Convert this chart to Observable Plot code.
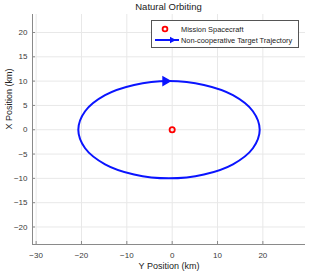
<!DOCTYPE html>
<html>
<head>
<meta charset="utf-8">
<script src="https://cdn.jsdelivr.net/npm/d3@7"></script>
<script src="https://cdn.jsdelivr.net/npm/@observablehq/plot@0.6"></script>
<style>
  html, body { margin: 0; padding: 0; background: #fff; }
  #wrap { position: relative; width: 309px; height: 276px; font-family: "Liberation Sans", Arial, sans-serif; }
  #title { position: absolute; left: 32px; width: 273px; top: 1px; text-align: center; font-size: 9.5px; color: #1a1a1a; }
  #legend { position: absolute; left: 151px; top: 20px; width: 146px; height: 26px; border: 1px solid #555; background: #fff; font-size: 7.4px; color: #222; }
  .row { position: absolute; left: 0; height: 12px; width: 146px; }
  .row svg { position: absolute; left: 0; top: 0; }
  .row span { position: absolute; left: 29px; top: 1.5px; white-space: nowrap; }
  svg { overflow: visible; }
</style>
</head>
<body>
<div id="wrap"></div>
<script>
// Chart values
const chartTitle = "Natural Orbiting";
const xLabel = "Y Position (km)";
const yLabel = "X Position (km)";
const xTicks = [-30, -20, -10, 0, 10, 20];
const yTicks = [-20, -15, -10, -5, 0, 5, 10, 15, 20];
const xDomain = [-30.8, 29.4];
const yDomain = [-23.6, 23.7];

// Target trajectory, horizontal = Y position, vertical = X position
const orbitY = [19.3, 17.8, 13.4, 7.0, -0.7, -8.4, -14.8, -19.2, -20.7, -19.2, -14.8, -8.4, -0.7, 7.0, 13.4, 17.8];
const orbitX = [0, 3.8, 7.1, 9.2, 10, 9.2, 7.1, 3.8, 0, -3.8, -7.1, -9.2, -10, -9.2, -7.1, -3.8];

// Arrow marker on trajectory
const arrowY = [-1.5];
const arrowX = [10];

// Mission spacecraft
const craftY = [0];
const craftX = [0];

const legendLabels = ["Mission Spacecraft", "Non-cooperative Target Trajectory"];

const orbit = orbitY.map((v, i) => ({h: v, v: orbitX[i]}));
const arrow = arrowY.map((v, i) => ({h: v, v: arrowX[i]}));
const craft = craftY.map((v, i) => ({h: v, v: craftX[i]}));

const fmt = d => d < 0 ? "\u2212" + Math.abs(d) : String(d);

const chart = Plot.plot({
  width: 309,
  height: 276,
  marginLeft: 32,
  marginRight: 4,
  marginTop: 14,
  marginBottom: 32,
  style: {fontFamily: "Liberation Sans, Arial, sans-serif", background: "#fff"},
  x: {domain: xDomain, ticks: xTicks},
  y: {domain: yDomain, ticks: yTicks},
  marks: [
    Plot.gridX(xTicks, {stroke: "#e8e8e8", strokeOpacity: 1}),
    Plot.gridY(yTicks, {stroke: "#e8e8e8", strokeOpacity: 1}),
    Plot.ruleY([yDomain[0]], {stroke: "#8a8a8a", strokeWidth: 1}),
    Plot.ruleX([xDomain[0]], {stroke: "#8a8a8a", strokeWidth: 1}),
    Plot.axisX(xTicks, {tickSize: -3, tickPadding: 11, stroke: "#8a8a8a", fill: "#3a3a3a", fontSize: 8, tickFormat: fmt, label: null}),
    Plot.axisY(yTicks, {tickSize: -3, tickPadding: 8, stroke: "#8a8a8a", fill: "#3a3a3a", fontSize: 8, tickFormat: fmt, label: null}),
    Plot.line(orbit, {x: "h", y: "v", curve: "catmull-rom-closed", stroke: "#0a14ff", strokeWidth: 2}),
    Plot.dot(arrow, {x: "h", y: "v", symbol: "triangle", rotate: 90, r: 3, fill: "#0a14ff", stroke: "#0a14ff"}),
    Plot.dot(craft, {x: "h", y: "v", r: 2.6, stroke: "#ff0000", strokeWidth: 1.8, fill: "none"}),
    Plot.text([xLabel], {frameAnchor: "bottom", dy: 24, text: d => d, fontSize: 9, fill: "#222"}),
    Plot.text([yLabel], {frameAnchor: "left", dx: -23, rotate: -90, text: d => d, fontSize: 9, fill: "#222"})
  ]
});

const wrap = document.getElementById("wrap");
wrap.appendChild(chart);

const title = document.createElement("div");
title.id = "title";
title.textContent = chartTitle;
wrap.appendChild(title);

const legend = document.createElement("div");
legend.id = "legend";
legend.innerHTML = `
  <div class="row" style="top:2px">
    <svg width="28" height="12"><circle cx="13" cy="6" r="2.4" fill="none" stroke="#ff0000" stroke-width="1.8"/></svg>
    <span>${legendLabels[0]}</span>
  </div>
  <div class="row" style="top:13px">
    <svg width="28" height="12"><line x1="3" y1="6" x2="27" y2="6" stroke="#0a14ff" stroke-width="2"/><path d="M18,2.8 L24,6 L18,9.2 Z" fill="#0a14ff"/></svg>
    <span>${legendLabels[1]}</span>
  </div>`;
wrap.appendChild(legend);
</script>
</body>
</html>
